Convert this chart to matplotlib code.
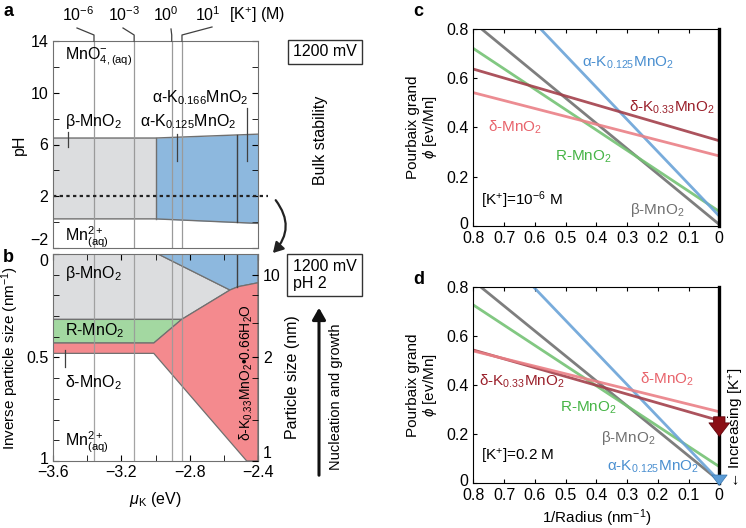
import numpy as np
import matplotlib
matplotlib.use("Agg")
import matplotlib.pyplot as plt
from matplotlib.lines import Line2D
from matplotlib.patches import FancyArrowPatch, Polygon
from matplotlib.transforms import ScaledTranslation

plt.rcParams['font.family'] = ['Liberation Sans', 'DejaVu Sans']
plt.rcParams['mathtext.fontset'] = 'custom'
plt.rcParams['mathtext.rm'] = 'Liberation Sans'
plt.rcParams['mathtext.it'] = 'Liberation Sans:italic'
plt.rcParams['mathtext.default'] = 'regular'

W, H = 746, 528

# ---- data: panel a (bulk Pourbaix, 1200 mV) ----
mu_lines = [-3.36, -3.125, -2.905, -2.845]          # mu_K of [K+] reference lines
conc_labels = ['10$^{-6}$', '10$^{-3}$', '10$^{0}$', '10$^{1}$']
beta_a = {'x': [-3.6, -3.0], 'low': [0.25, 0.25], 'high': [6.5, 6.5]}
alpha_a = {'x': [-3.0, -2.4], 'low': [0.25, -0.1], 'high': [6.5, 6.8]}
alpha_split = -2.525

# ---- data: panel b (size-dependent diagram at pH 2) ----
gray_b = [(-3.6, 0), (-2.985, 0), (-2.564, 0.174), (-2.847, 0.316), (-3.6, 0.316)]
blue_b = [(-2.985, 0), (-2.4, 0), (-2.4, 0.139), (-2.517, 0.158), (-2.564, 0.174)]
green_b = [(-3.6, 0.316), (-2.847, 0.316), (-3.01, 0.43), (-3.6, 0.43)]
pink_b = [(-3.6, 0.43), (-3.01, 0.43), (-2.847, 0.316), (-2.564, 0.174), (-2.517, 0.158),
          (-2.4, 0.139), (-2.4, 1.0), (-2.466, 1.0), (-3.01, 0.48), (-3.6, 0.48)]

# ---- data: panels c, d (phi = intercept + slope * 1/r) ----
inv_r = np.array([0.8, 0.0])
phases = ['beta', 'R', 'alpha', 'dK', 'd']
c_icpt = [0.005, 0.058, 0.039, 0.346, 0.284]
c_slope = [1.03, 0.83, 1.312, 0.365, 0.3225]
d_icpt = [0.01, 0.068, 0.01, 0.256, 0.292]
d_slope = [1.02, 0.825, 1.31, 0.36, 0.31]

col_line = {'beta': '#707070', 'R': '#74c274', 'alpha': '#6aa3d8', 'dK': '#a3404b', 'd': '#ea8086'}
col_text = {'beta': '#707070', 'R': '#46b446', 'alpha': '#4a8fd0', 'dK': '#9a1f2a', 'd': '#e8636b'}
names = {'beta': 'β-MnO$_2$', 'R': 'R-MnO$_2$', 'alpha': 'α-K$_{0.125}$MnO$_2$',
         'dK': 'δ-K$_{0.33}$MnO$_2$', 'd': 'δ-MnO$_2$'}

c_fill = {'gray': '#dcdddf', 'blue': '#8db8de', 'green': '#a3d8a1', 'pink': '#f48a8e'}

fig = plt.figure(figsize=(W / 100, H / 100), dpi=100)


def fx(px):
    return px / W


def fy(py):
    return 1 - py / H


def fline(xs, ys, **kw):
    fig.add_artist(Line2D([fx(x) for x in xs], [fy(y) for y in ys], transform=fig.transFigure, **kw))


def ftext(px, py, s, **kw):
    fig.text(fx(px), fy(py), s, **kw)


def nudge(label, dy_px):
    label.set_transform(label.get_transform() + ScaledTranslation(0, dy_px / 100, fig.dpi_scale_trans))


# ================= panel a =================
axa = fig.add_axes([fx(53), fy(248), 205 / W, 207 / H])
axa.set_xlim(-3.6, -2.4)
axa.set_ylim(-2, 14)
axa.fill_between(beta_a['x'], beta_a['low'], beta_a['high'], color=c_fill['gray'], lw=0)
axa.fill_between(alpha_a['x'], alpha_a['low'], alpha_a['high'], color=c_fill['blue'], lw=0)
axa.plot(beta_a['x'] + alpha_a['x'][1:], beta_a['high'] + alpha_a['high'][1:], color='#707070', lw=1)
axa.plot(beta_a['x'] + alpha_a['x'][1:], beta_a['low'] + alpha_a['low'][1:], color='#707070', lw=1)
axa.plot([-3.0, -3.0], [0.25, 6.5], color='#707070', lw=1)
t = (alpha_split - alpha_a['x'][0]) / 0.6
axa.plot([alpha_split] * 2, [0.25 + t * (-0.35), 6.5 + t * 0.3], color='#404040', lw=1)
for m in mu_lines:
    axa.axvline(m, color='#9a9a9a', lw=0.9)
axa.plot([-3.6, -2.34], [2, 2], color='#222222', ls=(0, (1.5, 1.5)), lw=1.6, clip_on=False)
axa.set_yticks([14, 10, 6, 2, -2])
axa.set_yticklabels(['14', '10', '6', '2', '\u22122'])
axa.set_yticks([12, 8, 4, 0], minor=True)
axa.set_xticks([])
axa.tick_params(axis='y', which='both', direction='in', right=True, labelsize=11.5, length=4)
axa.get_yticklabels()[-1].set_va('bottom')
axa.set_ylabel('pH', fontsize=11.5, labelpad=2)
for s in axa.spines.values():
    s.set_color('#707070')

axa.text(-3.53, 12.8, 'MnO$^{-}_{4,(aq)}$', fontsize=11.5, va='center')
axa.text(-3.53, 7.8, 'β-MnO$_2$', fontsize=11.5, va='center')
axa.plot([-3.515, -3.515], [7.0, 5.8], color='#404040', lw=0.9)
axa.text(-2.455, 9.6, 'α-K$_{0.166}$MnO$_2$', fontsize=11.5, va='center', ha='right')
axa.text(-2.525, 7.8, 'α-K$_{0.125}$MnO$_2$', fontsize=11.5, va='center', ha='right')
axa.plot([-2.875, -2.875], [6.8, 4.7], color='#404040', lw=0.9)
axa.plot([-2.465, -2.465], [8.8, 4.7], color='#404040', lw=0.9)
axa.text(-3.53, -1.2, 'Mn$^{2+}_{(aq)}$', fontsize=11.5, va='center')

# top [K+] labels and leaders
lab_x = [78, 124, 166, 208]
lead_start = [(77, 28), (123, 28), (171, 29), (212, 27)]
line_px = [53 + (m + 3.6) / 1.2 * 205 for m in mu_lines]
for lx, lab, (sx, sy), px in zip(lab_x, conc_labels, lead_start, line_px):
    ftext(lx, 15, lab, fontsize=11.5, ha='center', va='center')
    fline([sx, px, px], [sy, 35, 41], color='#404040', lw=0.9)
ftext(257, 15, '[K$^{+}$] (M)', fontsize=11.5, ha='center', va='center')
ftext(3, 11, 'a', fontsize=13, fontweight='bold', va='center')

ftext(325, 52, '1200 mV', fontsize=11.5, ha='center', va='center',
      bbox=dict(boxstyle='square,pad=0.3', fc='white', ec='#333333', lw=1))
ftext(320, 140, 'Bulk stability', fontsize=11.5, rotation=90, ha='center', va='center')

arr = FancyArrowPatch((fx(274), fy(198)), (fx(271), fy(255)), transform=fig.transFigure,
                      connectionstyle='arc3,rad=-0.45', arrowstyle='-|>,head_length=6,head_width=3.5',
                      color='#222222', lw=1.6)
fig.add_artist(arr)

# ================= panel b =================
axb = fig.add_axes([fx(53), fy(461), 205 / W, 207 / H])
axb.set_xlim(-3.6, -2.4)
axb.set_ylim(1, 0)
for poly, c in [(gray_b, 'gray'), (blue_b, 'blue'), (green_b, 'green'), (pink_b, 'pink')]:
    axb.add_patch(Polygon(poly, closed=True, fc=c_fill[c], ec='#707070', lw=0.9))
axb.plot([-2.523, -2.523], [0, 0.158], color='#404040', lw=1)
for m in mu_lines:
    axb.axvline(m, color='#9a9a9a', lw=0.9, alpha=0.9)
axb.set_xticks([-3.6, -3.2, -2.8, -2.4])
axb.set_xticklabels(['\u22123.6', '\u22123.2', '\u22122.8', '\u22122.4'])
axb.set_xticks([-3.4, -3.0, -2.6], minor=True)
axb.set_yticks([0, 0.5, 1])
axb.set_yticklabels(['0', '0.5', '1'])
axb.set_yticks(np.arange(0.1, 1.0, 0.1), minor=True)
axb.tick_params(which='both', direction='in', top=True, labelsize=11.5, length=4)
axb.tick_params(axis='x', pad=3)
axb.get_yticklabels()[0].set_va('top')
nudge(axb.get_yticklabels()[-1], 3)
axb.set_xlabel('$\\mathit{\\mu}_{K}$ (eV)', fontsize=11.5, labelpad=7)
axb.set_ylabel('Inverse particle size (nm$^{-1}$)', fontsize=11)
axb.yaxis.set_label_coords(-0.155, 0.5)
for s in axb.spines.values():
    s.set_color('#707070')

axr = axb.twinx()
axr.set_ylim(1, 0)
axr.set_yticks([0.1, 0.5, 1])
axr.set_yticklabels(['10', '2', '1'])
axr.set_yticks([0.2, 1 / 3, 0.6, 0.8], minor=True)
axr.tick_params(which='both', direction='in', labelsize=11.5, length=4)
axr.get_yticklabels()[-1].set_va('bottom')
for s in axr.spines.values():
    s.set_visible(False)

axb.text(-3.53, 0.095, 'β-MnO$_2$', fontsize=11.5, va='center')
axb.text(-3.53, 0.37, 'R-MnO$_2$', fontsize=11.5, va='center')
axb.plot([-3.53, -3.53], [0.465, 0.545], color='#404040', lw=0.9)
axb.text(-3.53, 0.62, 'δ-MnO$_2$', fontsize=11.5, va='center')
axb.text(-3.53, 0.91, 'Mn$^{2+}_{(aq)}$', fontsize=11.5, va='center')
axb.text(-2.47, 0.575, 'δ-K$_{0.33}$MnO$_2$•0.66H$_2$O', fontsize=10, rotation=90,
         ha='center', va='center')

ftext(3, 258, 'b', fontsize=13, fontweight='bold', va='center')
fig.text(fx(293), fy(275), '1200 mV\npH 2', fontsize=11.5, ha='left', va='center', linespacing=1.1,
         bbox=dict(boxstyle='square,pad=0.35', fc='white', ec='#333333', lw=1))
ftext(293, 377, 'Particle size (nm)', fontsize=11.5, rotation=90, ha='center', va='center')
ftext(336, 397, 'Nucleation and growth', fontsize=10.5, rotation=90, ha='center', va='center')
fig.add_artist(FancyArrowPatch((fx(319), fy(478)), (fx(319), fy(305)), transform=fig.transFigure,
                               arrowstyle='-|>,head_length=7,head_width=4', color='#111111', lw=2.2))


# ================= panels c, d =================
def pourbaix_panel(rect, icpt, slope):
    ax = fig.add_axes(rect)
    for p, b0, b1 in zip(phases, icpt, slope):
        ax.plot(inv_r, b0 + b1 * inv_r, color=col_line[p], lw=2, alpha=0.9)
    ax.set_xlim(0.8, 0)
    ax.set_ylim(0, 0.8)
    ax.set_xticks(np.round(np.arange(0, 0.81, 0.1), 1))
    ax.set_xticklabels(['0', '0.1', '0.2', '0.3', '0.4', '0.5', '0.6', '0.7', '0.8'])
    ax.set_yticks([0, 0.2, 0.4, 0.6, 0.8])
    ax.set_yticklabels(['0', '0.2', '0.4', '0.6', '0.8'])
    ax.tick_params(direction='in', labelsize=11.5, length=3, top=True)
    nudge(ax.get_yticklabels()[0], 3)
    ax.spines['right'].set_linewidth(2.4)
    ax.set_ylabel('Pourbaix grand\n$\\mathit{\\phi}$ [ev/Mn]', fontsize=11, linespacing=1.1)
    ax.yaxis.set_label_coords(-0.14, 0.5)
    return ax


axc = pourbaix_panel([fx(473.3), fy(225.7), 246 / W, 196.4 / H], c_icpt, c_slope)
axc.text(0.297, 0.663, names['alpha'], color=col_text['alpha'], fontsize=11, ha='center', va='center')
axc.text(0.154, 0.483, names['dK'], color=col_text['dK'], fontsize=11, ha='center', va='center')
axc.text(0.665, 0.402, names['d'], color=col_text['d'], fontsize=11, ha='center', va='center')
axc.text(0.443, 0.28, names['R'], color=col_text['R'], fontsize=11, ha='center', va='center')
axc.text(0.203, 0.064, names['beta'], color=col_text['beta'], fontsize=11, ha='center', va='center')
axc.text(0.642, 0.105, '[K$^{+}$]=10$^{-6}$ M', fontsize=11, ha='center', va='center')
ftext(413, 11, 'c', fontsize=13, fontweight='bold', va='center')

axd = pourbaix_panel([fx(473.3), fy(483.3), 246 / W, 196 / H], d_icpt, d_slope)
axd.set_xlabel('1/Radius (nm$^{-1}$)', fontsize=11)
axd.xaxis.set_label_coords(0.5, -0.125)
axd.text(0.643, 0.415, names['dK'], color=col_text['dK'], fontsize=11, ha='center', va='center')
axd.text(0.171, 0.425, names['d'], color=col_text['d'], fontsize=11, ha='center', va='center')
axd.text(0.426, 0.31, names['R'], color=col_text['R'], fontsize=11, ha='center', va='center')
axd.text(0.296, 0.186, names['beta'], color=col_text['beta'], fontsize=11, ha='center', va='center')
axd.text(0.215, 0.066, names['alpha'], color=col_text['alpha'], fontsize=11, ha='center', va='center')
axd.text(0.657, 0.109, '[K$^{+}$]=0.2 M', fontsize=11, ha='center', va='center')
axd.annotate('', xy=(0, 0.18), xytext=(0, 0.283), annotation_clip=False,
             arrowprops=dict(arrowstyle='simple,head_width=1.0,head_length=0.65,tail_width=0.55',
                             mutation_scale=15, fc='#8b0e15', ec='#5a0008', lw=0.5))
axd.annotate('', xy=(0, -0.02), xytext=(0, 0.028), annotation_clip=False,
             arrowprops=dict(arrowstyle='simple,head_width=0.75,head_length=0.5,tail_width=0.5',
                             mutation_scale=15, fc='#5b9bd5', ec='#3a78b0', lw=0.5))
ftext(736, 428, '\u2190 Increasing [K$^{+}$]', fontsize=11, rotation=90, ha='center', va='center')
ftext(413, 280, 'd', fontsize=13, fontweight='bold', va='center')

fig.savefig('out.png', dpi=100)
